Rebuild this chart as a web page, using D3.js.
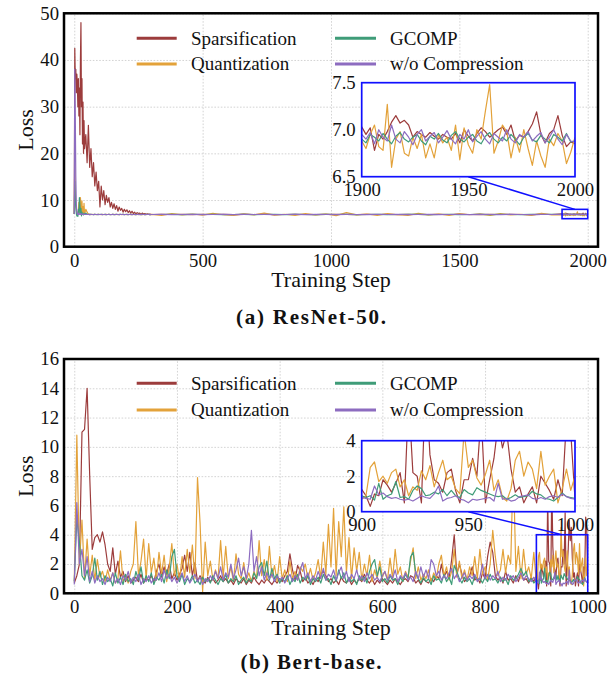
<!DOCTYPE html>
<html><head><meta charset="utf-8">
<script src="https://cdn.jsdelivr.net/npm/d3@7"></script>
<style>html,body{margin:0;padding:0;background:#fff;}</style>
</head><body><div id="chart"></div>
<script>
// ---------------- DATA ----------------
const seriesNames = ["Sparsification", "Quantization", "GCOMP", "w/o Compression"];
const seriesColors = ["#9c3c3c", "#e3a23a", "#3f9c78", "#8d6cc0"];

// (a) ResNet-50 : training steps at which values were read
const resSteps = [].concat(d3.range(0, 41, 2), d3.range(45, 301, 5), d3.range(340, 1861, 40), d3.range(1900, 2001, 2));
const resSparsification = [
  7.0, 42.5, 36, 38, 33, 37, 35, 30, 36, 28, 34, 24, 40, 48, 30, 36, 22, 31, 20, 27, 21,
  24, 18, 26, 17, 21, 15, 18, 13, 16, 12, 14, 8.5, 13, 10, 12, 9, 11, 9.5, 10.5, 8.5,
  9.5, 8.2, 9.2, 8.0, 8.8, 7.6, 8.5, 7.8, 8.2, 7.4, 8.0, 7.5, 7.9, 7.3, 7.7, 7.2, 7.6, 7.1, 7.4, 7.0,
  7.3, 7.1, 7.2, 6.9, 7.2, 7.0, 7.1, 6.9, 7.05, 6.95, 7.0, 6.9,
  6.95, 6.9, 6.92, 6.88, 6.95, 6.9, 6.93, 6.87, 6.92, 6.9, 6.95, 6.88, 6.9, 6.93, 6.9, 6.87, 6.92, 6.95, 6.9, 6.88,
  6.93, 6.9, 6.92, 6.88, 6.95, 6.9, 6.87, 6.92, 6.9, 6.94, 6.9, 6.88, 6.92, 6.9, 6.95, 6.9, 6.88, 6.92, 6.9,
  7.03, 6.95, 7.02, 6.78, 6.95, 6.90, 6.98, 7.08, 7.15, 7.07, 7.10, 7.05, 6.92, 6.98, 6.95, 6.92, 6.97, 6.93, 6.90, 6.95,
  6.92, 6.90, 6.96, 6.86, 7.00, 6.93, 6.88, 6.96, 7.02, 6.98, 6.92, 6.96, 7.00, 7.03, 6.95, 7.05, 6.88, 6.94, 6.92, 6.98,
  7.06, 7.19, 6.95, 6.86, 6.96, 7.00, 7.15, 6.94, 6.82, 6.87, 6.85
];
const resQuantization = [
  7.0, 20, 12, 9, 8, 7.2, 7.0, 6.9, 7.5, 9.5, 8.0, 7.1, 10.5, 8.5, 7.0, 9.8, 7.2, 8.6, 7.0, 9.3, 7.0,
  8.0, 7.4, 6.9, 7.0, 6.85, 6.95, 6.9, 6.95, 6.85, 6.9, 6.95, 6.9, 6.85, 6.95, 6.9, 6.88, 6.92, 6.9, 6.95, 6.85,
  6.9, 6.95, 6.88, 6.92, 6.9, 6.85, 6.95, 6.9, 6.88, 6.92, 6.9, 6.95, 6.85, 6.9, 6.92, 6.88, 6.95, 6.9, 6.85, 6.92,
  6.9, 6.88, 6.95, 6.9, 6.85, 6.92, 6.9, 6.88, 6.95, 6.9, 6.85, 6.92,
  6.7, 7.1, 6.8, 7.0, 6.75, 7.15, 6.85, 6.7, 7.05, 6.8, 7.2, 6.75, 6.95, 6.7, 7.1, 6.8, 7.0, 6.65, 7.3, 6.8,
  7.0, 6.7, 7.1, 6.85, 6.7, 7.15, 6.8, 7.0, 6.7, 7.1, 6.85, 7.05, 6.7, 7.1, 6.8, 6.95, 6.7, 7.15, 6.8,
  6.88, 6.80, 6.95, 7.05, 6.82, 6.78, 7.27, 6.60, 6.90, 6.98, 6.75, 6.72, 6.92, 6.80, 6.95, 6.70, 6.85, 6.70, 6.95, 6.86,
  6.92, 6.78, 7.05, 6.68, 7.02, 6.84, 6.75, 7.00, 6.90, 7.20, 7.48, 6.75, 6.88, 7.05, 6.98, 6.70, 6.92, 6.76, 7.00, 6.80,
  6.62, 6.88, 6.72, 6.60, 6.90, 6.83, 6.96, 6.88, 6.64, 6.76, 6.92
];
const resGCOMP = [
  7.0, 14, 10, 8.5, 7.2, 6.6, 7.0, 6.5, 8.0, 7.0, 10.5, 9.0, 7.0, 8.2, 6.6, 7.4, 6.9, 7.0, 6.8, 7.2, 6.9,
  7.2, 6.9, 6.95, 6.88, 6.92, 6.9, 6.86, 6.93, 6.9, 6.88, 6.92, 6.9, 6.95, 6.88, 6.9, 6.92, 6.87, 6.9, 6.93, 6.89,
  6.9, 6.92, 6.88, 6.9, 6.94, 6.9, 6.87, 6.91, 6.9, 6.93, 6.88, 6.9, 6.92, 6.89, 6.9, 6.93, 6.88, 6.9, 6.91, 6.87,
  6.9, 6.93, 6.9, 6.88, 6.92, 6.9, 6.87, 6.91, 6.9, 6.93, 6.89, 6.9,
  6.9, 6.92, 6.88, 6.91, 6.9, 6.93, 6.89, 6.9, 6.92, 6.88, 6.9, 6.91, 6.89, 6.92, 6.9, 6.88, 6.93, 6.9, 6.91, 6.89,
  6.9, 6.92, 6.88, 6.9, 6.91, 6.93, 6.89, 6.9, 6.92, 6.88, 6.9, 6.91, 6.89, 6.92, 6.9, 6.88, 6.91, 6.9, 6.92,
  6.90, 6.86, 6.95, 6.92, 6.88, 6.96, 6.90, 6.85, 6.93, 6.97, 6.90, 6.87, 6.92, 6.95, 6.88, 6.84, 6.93, 6.90, 6.96, 6.89,
  6.86, 6.94, 6.98, 6.90, 6.87, 6.92, 6.95, 6.88, 6.85, 6.93, 6.97, 6.90, 6.86, 6.92, 6.88, 6.95, 6.90, 6.84, 6.92, 6.96,
  6.89, 6.87, 6.94, 6.90, 6.86, 6.95, 6.92, 6.88, 6.96, 6.87, 6.88
];
const resNoCompression = [
  7.0, 38, 28, 15, 9, 7.5, 7.0, 6.9, 7.2, 6.9, 7.0, 6.95, 7.1, 6.9, 7.0, 6.9, 7.0, 6.95, 6.9, 7.0, 6.9,
  6.95, 6.9, 6.92, 6.88, 6.95, 6.9, 6.87, 6.93, 6.9, 6.92, 6.88, 6.9, 6.94, 6.89, 6.9, 6.92, 6.87, 6.9, 6.93, 6.9,
  6.88, 6.92, 6.9, 6.89, 6.93, 6.9, 6.88, 6.91, 6.9, 6.94, 6.89, 6.9, 6.92, 6.88, 6.9, 6.93, 6.89, 6.9, 6.92, 6.88,
  6.9, 6.93, 6.89, 6.9, 6.92, 6.9, 6.88, 6.91, 6.9, 6.93, 6.88, 6.9,
  6.92, 6.88, 6.9, 6.93, 6.89, 6.9, 6.92, 6.88, 6.91, 6.9, 6.93, 6.89, 6.9, 6.91, 6.88, 6.92, 6.9, 6.89, 6.93, 6.9,
  6.88, 6.91, 6.9, 6.92, 6.89, 6.9, 6.93, 6.88, 6.9, 6.91, 6.89, 6.92, 6.9, 6.88, 6.93, 6.9, 6.89, 6.91, 6.9,
  6.95, 6.90, 6.97, 6.85, 7.00, 6.92, 6.88, 7.05, 6.90, 6.86, 6.98, 6.92, 6.84, 6.95, 7.00, 6.88, 6.93, 6.97, 6.86, 6.92,
  6.99, 6.90, 6.85, 6.95, 6.90, 7.00, 6.87, 6.93, 6.98, 6.90, 6.85, 6.96, 6.92, 6.88, 7.00, 6.90, 6.86, 6.95, 6.92, 6.98,
  6.88, 6.93, 6.97, 6.86, 6.92, 7.00, 6.90, 6.84, 6.95, 6.88, 6.87
];
const resXTicks = [0, 500, 1000, 1500, 2000];
const resYTicks = [0, 10, 20, 30, 40, 50];
const resInsetXTicks = [1900, 1950, 2000];
const resInsetYTicks = [6.5, 7.0, 7.5];

// (b) Bert-base
const bertSteps = [].concat(d3.range(0, 896, 5), d3.range(900, 1001, 2));
const bertSparsification = [
  0.7, 1.2, 2.0, 11.0, 11.2, 14.0, 8.1, 3.0, 3.8, 4.0,
  3.5, 4.2, 3.3, 2.0, 1.5, 3.1, 1.3, 2.2, 1.1, 1.5,
  0.8, 1.2, 0.7, 0.9, 1.1, 0.8, 1.3, 0.7, 1.0, 0.9,
  1.2, 0.8, 1.5, 2.0, 1.1, 1.8, 1.3, 2.0, 1.0, 1.4,
  0.9, 1.3, 1.7, 2.6, 1.5, 2.8, 1.2, 2.1, 0.8, 1.2,
  0.9, 0.7, 1.1, 0.8, 1.0, 0.7, 0.9, 1.2, 0.8, 1.0,
  0.7, 0.9, 0.6, 1.0, 0.8, 0.7, 1.0, 0.6, 0.9, 0.7,
  1.1, 0.8, 0.6, 0.9, 0.7, 1.0, 0.8, 0.6, 0.9, 0.7,
  1.0, 0.8, 1.2, 1.5, 2.7, 1.6, 0.9, 1.9, 1.5, 0.8,
  1.1, 0.7, 0.9, 0.6, 1.0, 0.8, 1.3, 1.5, 1.2, 0.8,
  1.0, 0.7, 0.9, 0.6, 1.1, 0.8, 0.7, 1.0, 0.6, 0.9,
  0.7, 1.0, 0.8, 1.3, 0.9, 0.7, 1.0, 0.6, 0.9, 0.7,
  1.0, 0.8, 0.6, 0.9, 0.7, 1.0, 0.8, 0.6, 0.9, 1.0,
  0.8, 1.2, 1.1, 0.7, 0.9, 0.6, 1.0, 0.8, 0.7, 1.0,
  0.8, 1.2, 1.0, 2.0, 1.1, 1.5, 1.0, 2.3, 4.0, 1.3,
  2.0, 1.3, 0.8, 1.0, 1.2, 1.8, 0.9, 1.1, 0.7, 1.4,
  1.0, 2.5, 3.5, 2.8, 1.2, 0.9, 1.1, 0.7, 1.5, 0.9,
  1.0, 0.7, 1.2, 0.8, 1.4, 0.9, 1.0, 0.7, 1.1, 0.8,
  1.26, 0.9, 0.3, 1.0, 0.9, 1.8, 1.5, 1.1, 1.6, 2.2,
  0.5, 6.5, 2.2, 2.0, 0.5, 7.5, 3.2, 1.8, 1.6, 1.1,
  2.2, 2.4, 1.2, 0.5, 1.8, 1.8, 3.0, 2.0, 5.5, 0.5,
  1.8, 3.0, 5.0, 3.6, 4.5, 2.4, 1.1, 1.4, 0.5, 1.0,
  1.4, 0.5, 2.0, 1.6, 1.2, 0.7, 1.8, 0.9, 5.2, 4.5, 0.7
];
const bertQuantization = [
  0.8, 10.8, 2.0, 5.0, 1.0, 3.7, 1.2, 2.6, 0.9, 2.3,
  1.1, 1.5, 0.8, 1.6, 0.9, 1.4, 0.7, 1.0, 2.9, 0.8,
  1.2, 0.7, 1.5, 2.0, 4.9, 1.2, 2.2, 3.7, 1.0, 3.4,
  1.4, 2.4, 0.9, 2.8, 1.3, 2.6, 0.8, 1.8, 3.4, 1.2,
  2.0, 0.9, 2.5, 1.1, 3.0, 1.4, 3.3, 1.0, 7.9, 4.8,
  0.1, 3.5, 1.2, 2.2, 0.9, 1.6, 1.0, 3.6, 1.1, 3.2,
  1.0, 1.8, 0.8, 2.7, 1.3, 1.0, 2.1, 0.9, 1.4, 0.8,
  1.5, 1.0, 3.6, 1.2, 2.3, 0.9, 3.2, 1.1, 1.9, 0.8,
  2.5, 1.0, 1.6, 0.8, 2.2, 1.0, 1.5, 0.9, 1.8, 1.5,
  2.0, 1.0, 1.7, 0.9, 1.4, 2.3, 1.0, 3.5, 1.3, 4.7,
  1.8, 5.8, 1.2, 4.9, 2.5, 5.9, 1.4, 3.8, 1.0, 3.1,
  1.5, 2.8, 0.9, 2.0, 1.2, 2.6, 0.8, 1.6, 1.0, 2.2,
  1.1, 1.5, 0.9, 2.4, 1.0, 3.0, 1.3, 1.8, 0.8, 1.5,
  1.1, 2.2, 3.1, 1.0, 1.8, 0.9, 1.3, 1.0, 1.6, 0.8,
  1.4, 1.0, 2.0, 2.6, 1.2, 1.8, 0.9, 1.5, 3.0, 1.1,
  2.2, 1.0, 1.6, 0.9, 1.8, 1.2, 2.5, 1.0, 3.0, 1.3,
  1.8, 0.9, 2.0, 4.3, 2.5, 1.2, 1.6, 3.0, 1.4, 2.6,
  2.0, 9.0, 1.5, 3.2, 1.0, 3.0, 1.3, 1.8, 1.0, 2.8,
  0.7, 0.9, 2.5, 2.8, 1.7, 2.0, 1.6, 2.2, 2.4, 1.4,
  1.8, 0.9, 1.4, 1.2, 2.3, 1.8, 2.6, 1.4, 2.2, 2.9,
  1.8, 2.0, 1.3, 1.0, 4.5, 2.5, 2.9, 1.9, 1.5, 2.1,
  2.9, 1.2, 1.8, 0.8, 0.6, 1.3, 2.9, 3.4, 2.0, 2.8,
  2.4, 1.3, 3.4, 1.5, 2.0, 2.4, 0.5, 1.3, 2.4, 1.2, 2.0
];
const bertGCOMP = [
  0.8, 5.1, 3.5, 1.2, 0.9, 1.6, 0.7, 1.2, 2.4, 0.9,
  1.5, 0.6, 1.2, 0.8, 1.0, 0.5, 1.4, 0.7, 1.1, 0.6,
  1.3, 0.8, 1.0, 0.6, 1.5, 0.9, 1.8, 0.7, 1.2, 0.8,
  1.4, 0.6, 1.1, 0.9, 1.3, 0.7, 1.6, 1.0, 2.5, 3.0,
  1.2, 0.8, 1.3, 0.6, 1.0, 0.8, 1.2, 0.7, 0.9, 0.6,
  1.1, 0.8, 1.0, 0.7, 1.2, 0.9, 0.6, 1.0, 0.8, 1.3,
  0.7, 1.0, 0.8, 1.2, 0.6, 0.9, 1.1, 0.7, 1.0, 0.8,
  1.4, 1.0, 1.8, 2.1, 1.2, 2.2, 0.9, 1.7, 1.0, 1.3,
  0.7, 1.0, 0.8, 1.2, 0.6, 1.0, 0.8, 1.3, 0.7, 1.1,
  0.9, 1.2, 0.6, 1.0, 0.8, 1.1, 0.7, 1.3, 0.9, 1.0,
  0.6, 1.2, 0.8, 1.6, 1.0, 1.4, 0.7, 1.1, 0.8, 1.0,
  0.6, 1.2, 0.9, 1.1, 0.7, 1.5, 2.0, 2.3, 1.2, 1.8,
  0.8, 1.0, 0.7, 1.2, 0.9, 1.0, 0.6, 1.1, 0.8, 1.3,
  1.0, 2.5, 2.8, 1.4, 1.0, 0.7, 1.1, 0.8, 1.0, 0.6,
  1.2, 0.9, 1.0, 0.7, 1.3, 0.8, 1.1, 0.6, 1.9, 1.5,
  1.0, 0.7, 1.1, 0.8, 1.0, 0.6, 1.2, 0.9, 1.0, 0.7,
  1.1, 0.8, 1.3, 0.9, 1.0, 0.7, 1.1, 0.8, 1.0, 0.6,
  1.2, 0.9, 1.0, 1.3, 1.7, 1.2, 1.5, 0.8, 1.0, 0.7,
  0.9, 0.8, 0.9, 0.65, 1.6, 0.7, 0.9, 1.0, 1.7, 0.8,
  0.85, 0.7, 1.2, 1.45, 1.3, 0.9, 0.95, 1.1, 1.0, 1.25,
  0.9, 1.2, 0.9, 0.8, 1.25, 1.05, 0.95, 1.35, 1.2, 1.1,
  1.0, 0.9, 0.85, 0.9, 0.7, 0.8, 0.95, 0.8, 0.85, 0.9,
  1.15, 1.0, 0.95, 0.75, 0.7, 0.6, 0.8, 1.05, 0.85, 0.8, 0.75
];
const bertNoCompression = [
  0.6, 6.2, 2.0, 3.0, 1.2, 2.5, 0.8, 1.5, 0.7, 1.2,
  0.8, 1.0, 0.6, 1.1, 0.8, 1.4, 0.7, 1.0, 0.6, 1.2,
  0.9, 1.5, 0.7, 1.1, 0.8, 1.3, 0.6, 1.0, 0.8, 1.2,
  0.7, 1.0, 0.9, 1.4, 0.8, 1.6, 1.0, 1.3, 0.8, 1.1,
  0.7, 1.0, 1.4, 0.8, 1.2, 0.7, 1.0, 1.3, 0.8, 1.1,
  0.6, 1.0, 0.8, 1.2, 0.9, 1.5, 1.0, 1.8, 0.9, 1.4,
  1.1, 2.0, 1.0, 1.6, 2.4, 1.2, 1.8, 1.0, 2.0, 4.3,
  1.5, 2.5, 1.2, 1.8, 0.9, 1.4, 1.0, 1.3, 0.8, 1.2,
  0.9, 1.1, 0.7, 1.0, 1.3, 0.8, 1.2, 0.9, 1.6, 2.1,
  1.0, 1.4, 0.8, 1.2, 0.9, 1.5, 1.0, 1.7, 0.9, 1.3,
  1.1, 1.6, 0.9, 1.4, 1.8, 1.0, 1.5, 0.8, 1.3, 1.0,
  1.6, 0.9, 1.2, 0.8, 1.4, 1.0, 1.3, 0.9, 1.1, 0.8,
  1.2, 1.5, 0.9, 1.3, 1.0, 1.6, 0.8, 1.2, 1.0, 1.4,
  0.9, 1.1, 0.8, 1.5, 1.0, 1.8, 1.1, 1.6, 1.0, 2.3,
  2.0, 1.2, 1.5, 0.9, 1.2, 1.0, 1.4, 1.7, 1.0, 1.3,
  0.8, 1.1, 1.4, 0.9, 1.2, 1.0, 1.3, 0.8, 1.1, 2.0,
  1.0, 1.3, 0.9, 1.2, 1.0, 1.5, 0.8, 1.1, 0.9, 1.3,
  1.0, 1.2, 0.8, 1.1, 1.4, 0.9, 1.2, 1.0, 0.8, 1.1,
  0.8, 0.75, 0.7, 1.45, 0.95, 1.05, 0.85, 0.75, 0.8, 0.7,
  0.65, 0.7, 0.6, 0.75, 0.9, 0.8, 0.75, 1.0, 1.45, 0.6,
  0.75, 0.8, 0.9, 0.7, 0.65, 0.5, 0.7, 0.65, 0.7, 0.75,
  0.8, 0.6, 1.6, 0.7, 0.75, 0.6, 0.65, 0.85, 0.9, 0.95,
  0.75, 0.7, 0.8, 0.7, 0.85, 0.9, 0.8, 1.0, 0.85, 0.75, 0.7
];
const bertXTicks = [0, 200, 400, 600, 800, 1000];
const bertYTicks = [0, 2, 4, 6, 8, 10, 12, 14, 16];
const bertInsetXTicks = [900, 950, 1000];
const bertInsetYTicks = [0, 2, 4];

// ---------------- DRAWING ----------------
const FONT = "'Liberation Serif','Times New Roman',Times,serif";
const W = 616, H = 677;
const intFmt = d3.format("d");
const svg = d3.select("#chart").append("svg").attr("width", W).attr("height", H)
  .style("font-family", FONT);

const panels = [
  {
    id: "a", steps: resSteps,
    values: [resSparsification, resQuantization, resGCOMP, resNoCompression],
    box: {l: 64, r: 598, t: 13.3, b: 246.7}, xDom: [-40, 2040], yDom: [0, 50],
    xTicks: resXTicks, yTicks: resYTicks,
    inset: {l: 361.7, r: 575, t: 82.7, b: 176.7, xDom: [1900, 2000], yDom: [6.5, 7.5],
            xTicks: resInsetXTicks, yTicks: resInsetYTicks, fmt: d3.format(".1f"), markY: [6, 8]},
    legendY: [38.3, 64], xLabelY: 287, caption: "(a) ResNet-50.", captionY: 324, captionW: 150
  },
  {
    id: "b", steps: bertSteps,
    values: [bertSparsification, bertQuantization, bertGCOMP, bertNoCompression],
    box: {l: 64, r: 598, t: 359, b: 593.3}, xDom: [-20, 1020], yDom: [0, 16],
    xTicks: bertXTicks, yTicks: bertYTicks,
    inset: {l: 361.7, r: 575, t: 440.7, b: 511.7, xDom: [900, 1000], yDom: [0, 4],
            xTicks: bertInsetXTicks, yTicks: bertInsetYTicks, fmt: d3.format("d"), markY: [0, 4]},
    legendY: [383.3, 410], xLabelY: 635, caption: "(b) Bert-base.", captionY: 669, captionW: 141
  }
];

const defs = svg.append("defs");

panels.forEach(p => {
  const B = p.box;
  const x = d3.scaleLinear().domain(p.xDom).range([B.l, B.r]);
  const y = d3.scaleLinear().domain(p.yDom).range([B.b, B.t]);
  const g = svg.append("g");

  defs.append("clipPath").attr("id", "clip-" + p.id).append("rect")
    .attr("x", B.l).attr("y", B.t).attr("width", B.r - B.l).attr("height", B.b - B.t);

  // axes with gridlines
  const xAxis = d3.axisBottom(x).tickValues(p.xTicks).tickFormat(intFmt)
    .tickSizeInner(-(B.b - B.t)).tickSizeOuter(0).tickPadding(6.7);
  const yAxis = d3.axisLeft(y).tickValues(p.yTicks).tickFormat(intFmt)
    .tickSizeInner(-(B.r - B.l)).tickSizeOuter(0).tickPadding(5);
  const gx = g.append("g").attr("transform", `translate(0,${B.b})`).call(xAxis);
  const gy = g.append("g").attr("transform", `translate(${B.l},0)`).call(yAxis);
  [gx, gy].forEach(a => {
    a.select(".domain").remove();
    a.selectAll(".tick line").attr("stroke", "#cfcfcf").attr("stroke-width", 0.9).attr("stroke-dasharray", "1.6,1.6");
    a.selectAll(".tick text").attr("font-family", FONT).attr("font-size", 18.7).attr("fill", "#111");
  });

  // series
  const line = d3.line().x(d => x(d[0])).y(d => y(d[1]));
  const plot = g.append("g").attr("clip-path", `url(#clip-${p.id})`);
  p.values.forEach((vals, i) => {
    const data = d3.zip(p.steps, vals);
    plot.append("path").datum(data).attr("d", line).attr("fill", "none")
      .attr("stroke", seriesColors[i]).attr("stroke-width", 1.2).attr("stroke-linejoin", "round");
  });

  // inset
  const I = p.inset;
  const xi = d3.scaleLinear().domain(I.xDom).range([I.l, I.r]);
  const yi = d3.scaleLinear().domain(I.yDom).range([I.b, I.t]);

  // zoom mark rectangle
  g.append("rect").attr("x", x(I.xDom[0])).attr("y", y(I.markY[1]))
    .attr("width", x(I.xDom[1]) - x(I.xDom[0])).attr("height", y(I.markY[0]) - y(I.markY[1]))
    .attr("fill", "none").attr("stroke", "#1010ff").attr("stroke-width", 1.6);
  // connector
  const midStep = (I.xDom[0] + I.xDom[1]) / 2;
  g.append("line").attr("x1", xi(midStep)).attr("y1", I.b)
    .attr("x2", x(midStep)).attr("y2", y(I.markY[1]))
    .attr("stroke", "#1010ff").attr("stroke-width", 1.5);

  defs.append("clipPath").attr("id", "clipi-" + p.id).append("rect")
    .attr("x", I.l).attr("y", I.t).attr("width", I.r - I.l).attr("height", I.b - I.t);
  const gi = g.append("g");
  gi.append("rect").attr("x", I.l).attr("y", I.t).attr("width", I.r - I.l).attr("height", I.b - I.t).attr("fill", "#fff");
  const linei = d3.line().x(d => xi(d[0])).y(d => yi(d[1]));
  const iplot = gi.append("g").attr("clip-path", `url(#clipi-${p.id})`);
  p.values.forEach((vals, i) => {
    const data = d3.zip(p.steps, vals).filter(d => d[0] >= I.xDom[0] - 40 && d[0] <= I.xDom[1]);
    iplot.append("path").datum(data).attr("d", linei).attr("fill", "none")
      .attr("stroke", seriesColors[i]).attr("stroke-width", 1.2).attr("stroke-linejoin", "round");
  });
  const gix = gi.append("g").attr("transform", `translate(0,${I.b})`)
    .call(d3.axisBottom(xi).tickValues(I.xTicks).tickFormat(intFmt).tickSize(0).tickPadding(6.2));
  const giy = gi.append("g").attr("transform", `translate(${I.l},0)`)
    .call(d3.axisLeft(yi).tickValues(I.yTicks).tickFormat(I.fmt).tickSize(0).tickPadding(6));
  [gix, giy].forEach(a => {
    a.select(".domain").remove();
    a.selectAll(".tick text").attr("font-family", FONT).attr("font-size", 18.7).attr("fill", "#111");
  });
  gi.append("rect").attr("x", I.l).attr("y", I.t).attr("width", I.r - I.l).attr("height", I.b - I.t)
    .attr("fill", "none").attr("stroke", "#1010ff").attr("stroke-width", 1.7);

  // frame
  g.append("rect").attr("x", B.l).attr("y", B.t).attr("width", B.r - B.l).attr("height", B.b - B.t)
    .attr("fill", "none").attr("stroke", "#000").attr("stroke-width", 2.5);

  // legend (2 columns x 2 rows)
  const legendCols = [{x1: 136.7, x2: 176.7, tx: 191}, {x1: 335, x2: 376, tx: 390}];
  const legendOrder = [[0, 0, 0], [1, 0, 1], [2, 1, 0], [3, 1, 1]]; // series, col, row
  legendOrder.forEach(([si, c, r]) => {
    const col = legendCols[c], yy = p.legendY[r];
    g.append("line").attr("x1", col.x1).attr("x2", col.x2).attr("y1", yy).attr("y2", yy)
      .attr("stroke", seriesColors[si]).attr("stroke-width", 3);
    g.append("text").attr("x", col.tx).attr("y", yy).attr("dy", "0.33em")
      .attr("font-size", 19).attr("fill", "#111").text(seriesNames[si]);
  });

  // axis titles
  g.append("text").attr("x", (B.l + B.r) / 2).attr("y", p.xLabelY).attr("text-anchor", "middle")
    .attr("font-size", 22).attr("fill", "#111").text("Training Step");
  g.append("text").attr("transform", `translate(33,${(B.t + B.b) / 2}) rotate(-90)`).attr("text-anchor", "middle")
    .attr("font-size", 22).attr("fill", "#111").text("Loss");

  // caption
  g.append("text").attr("x", 311).attr("y", p.captionY).attr("text-anchor", "middle")
    .attr("font-size", 21).attr("font-weight", "bold").attr("fill", "#111")
    .attr("textLength", p.captionW).attr("lengthAdjust", "spacing").text(p.caption);
});
</script>
</body></html>
